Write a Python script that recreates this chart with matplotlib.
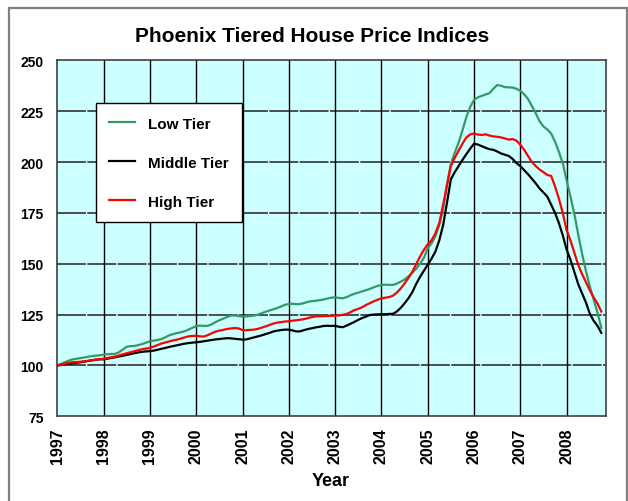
import numpy as np
import matplotlib
matplotlib.use('Agg')
import matplotlib.pyplot as plt
from matplotlib.patches import Rectangle

# monthly index values, Jan 1997 = 100, through Oct 2008
low_tier = [
    100.0, 100.8, 101.6, 102.4, 103.0, 103.3, 103.6, 103.9, 104.3, 104.6, 104.8, 105.0,
    105.3, 105.5, 105.6, 105.7, 106.5, 107.8, 109.2, 109.5, 109.6, 110.0, 110.5, 111.2,
    111.9, 112.2, 112.5, 113.0, 113.8, 114.8, 115.4, 115.9, 116.3, 116.8, 117.6, 118.5,
    119.3, 119.6, 119.4, 119.5, 120.2, 121.3, 122.2, 123.0, 123.8, 124.5, 124.6, 124.3,
    124.0, 124.1, 124.3, 124.5, 125.0, 125.7, 126.4, 127.0, 127.6, 128.2, 129.0, 129.8,
    130.2, 130.3, 130.1, 130.2, 130.7, 131.3, 131.6, 131.8, 132.1, 132.4, 132.9, 133.3,
    133.5, 133.2, 133.0, 133.6, 134.5, 135.2, 135.8, 136.4, 137.0, 137.6, 138.4, 139.1,
    139.5, 139.7, 139.6, 139.6, 140.2, 141.2, 142.2, 143.8, 145.5, 147.5, 150.0, 152.8,
    157.5, 160.0, 163.5, 169.0, 177.0, 189.0, 199.0, 204.5, 209.5, 215.5, 222.0, 227.0,
    230.5, 231.8, 232.5, 233.2, 233.8, 236.0, 237.8, 237.5, 236.8, 236.7, 236.6, 236.0,
    235.0, 233.3, 231.0, 227.5, 224.0, 220.0, 217.5, 216.0, 214.0, 210.0, 205.0, 199.5,
    191.0, 183.0, 174.5, 164.5, 155.0, 146.5, 139.0, 132.5, 126.0, 118.5,
]

middle_tier = [
    100.0, 100.2, 100.5, 100.8, 101.0, 101.3, 101.6, 101.9, 102.2, 102.5, 102.8, 103.0,
    103.0, 103.3, 103.7, 104.0, 104.4, 104.8, 105.2, 105.6, 106.0, 106.4, 106.7, 106.9,
    107.0, 107.3, 107.7, 108.2, 108.6, 109.1, 109.5, 109.9, 110.3, 110.7, 111.0, 111.2,
    111.4, 111.6, 111.9, 112.2, 112.5, 112.8, 113.0, 113.2, 113.4, 113.3, 113.1, 112.9,
    112.7, 112.8, 113.3, 113.8, 114.3, 114.8, 115.4, 116.0, 116.7, 117.1, 117.4, 117.6,
    117.6, 117.2, 116.7, 116.8, 117.4, 117.9, 118.3, 118.7, 119.0, 119.4, 119.5, 119.4,
    119.5, 119.0, 118.8, 119.6, 120.5, 121.4, 122.4, 123.3, 124.0, 124.8, 125.0, 125.1,
    125.2, 125.2, 125.3, 125.4, 126.5, 128.3, 130.5, 133.0, 136.0, 140.0, 143.5, 146.5,
    149.5, 152.5, 156.0, 161.5, 169.0, 180.0, 191.5, 195.0, 198.0, 201.0, 203.8, 206.5,
    209.0, 208.6, 207.8, 207.0, 206.3, 206.0, 205.2, 204.2, 203.6, 203.0, 201.5, 199.5,
    198.0, 196.0, 194.0, 191.8, 189.5, 187.0, 185.0, 183.0, 179.0, 175.0, 170.0, 164.0,
    157.0, 152.0, 146.0, 140.0, 135.5, 131.0, 125.5, 122.0, 119.5, 116.0,
]

high_tier = [
    100.0, 100.4, 100.9, 101.3, 101.6, 101.7, 101.8, 102.0, 102.3, 102.6, 102.9, 103.1,
    103.3, 103.7, 104.0, 104.4, 104.9, 105.5, 106.0, 106.5, 107.0, 107.5, 108.0, 108.3,
    108.6, 109.3, 110.0, 110.8, 111.3, 111.8, 112.3, 112.7, 113.2, 113.8, 114.3, 114.5,
    114.6, 114.3, 114.2, 114.9, 115.8, 116.6, 117.1, 117.5, 117.9, 118.2, 118.4, 118.2,
    117.4, 117.3, 117.5, 117.6, 118.0, 118.6, 119.2, 119.9, 120.6, 121.0, 121.3, 121.6,
    121.7, 122.0, 122.2, 122.5, 122.8, 123.3, 123.8, 124.1, 124.2, 124.2, 124.3, 124.4,
    124.5, 124.6, 124.9, 125.3, 126.2, 127.2, 127.8, 128.6, 129.7, 130.6, 131.5, 132.3,
    133.0, 133.3, 133.6, 134.3, 135.8, 137.8, 140.3, 143.0, 146.0, 149.7, 153.5, 156.8,
    159.5, 161.5, 165.0, 170.0, 179.0, 188.5, 198.0, 202.0, 205.5, 209.0, 212.0, 213.6,
    214.0, 213.5, 213.3, 213.6, 213.0, 212.6, 212.4, 212.1, 211.6, 211.0, 211.3, 210.5,
    208.5, 206.0, 203.0, 200.0, 198.0, 196.3, 195.0, 193.6, 193.2, 188.0, 182.0, 175.0,
    166.5, 161.5, 155.5, 149.5, 145.0, 141.0, 137.0, 133.5, 130.5, 126.5,
]

years = ['1997', '1998', '1999', '2000', '2001', '2002', '2003', '2004',
         '2005', '2006', '2007', '2008']
y_ticks = [75, 100, 125, 150, 175, 200, 225, 250]

plt.rcParams['font.family'] = ['Liberation Sans', 'DejaVu Sans']
plt.rcParams['font.weight'] = 'bold'

t = np.arange(len(low_tier)) / 12.0

fig = plt.figure(figsize=(6.28, 5.02), dpi=100)
ax = fig.add_axes([57.3 / 628, 1 - 417.3 / 502, 548.4 / 628, 356 / 502])
ax.set_facecolor('#ccffff')

# outer chart border
fig.patches.append(Rectangle((8.5 / 628, -0.05), 618 / 628, 1 - 8.5 / 502 + 0.05,
                             transform=fig.transFigure, fill=False,
                             edgecolor='#808080', linewidth=1.6))

for v in y_ticks[1:-1]:
    ax.axhline(v, color='#404040', linewidth=1.3, linestyle=(0, (16, 0.8)), zorder=1)
for i in range(1, len(years)):
    ax.axvline(i, color='black', linewidth=1.0, zorder=1)

ax.plot(t, low_tier, color='#339966', linewidth=1.6, label='Low Tier', zorder=3)
ax.plot(t, middle_tier, color='black', linewidth=1.6, label='Middle Tier', zorder=3)
ax.plot(t, high_tier, color='#ff0000', linewidth=1.6, label='High Tier', zorder=4)

ax.set_xlim(0, 548.4 / 46.3)
ax.set_ylim(75, 250)
ax.set_xticks(range(len(years)))
ax.set_xticklabels(years, rotation=90, fontsize=11.5, fontweight='bold')
ax.set_yticks(y_ticks)
ax.set_yticklabels([str(v) for v in y_ticks], fontsize=10, fontweight='bold')
ax.tick_params(length=0)
ax.tick_params(axis='y', pad=10)
ax.tick_params(axis='x', pad=8)
for s in ax.spines.values():
    s.set_color('#404040')
    s.set_linewidth(1.2)

leg = ax.legend(loc='upper left', bbox_to_anchor=(0.07, 0.88), fontsize=11,
                frameon=True, fancybox=False, edgecolor='black', framealpha=1,
                handlelength=1.7, labelspacing=1.63, borderpad=0.9,
                handletextpad=0.8, borderaxespad=0)
leg.get_frame().set_linewidth(1.0)
for txt in leg.get_texts():
    txt.set_fontweight('bold')

fig.text(312 / 628, 1 - 37 / 502, 'Phoenix Tiered House Price Indices',
         ha='center', va='center', fontsize=15, fontweight='bold')
fig.text(331 / 628, 1 - 482 / 502, 'Year', ha='center', va='center',
         fontsize=13, fontweight='bold')

fig.savefig('out.png', dpi=100)
